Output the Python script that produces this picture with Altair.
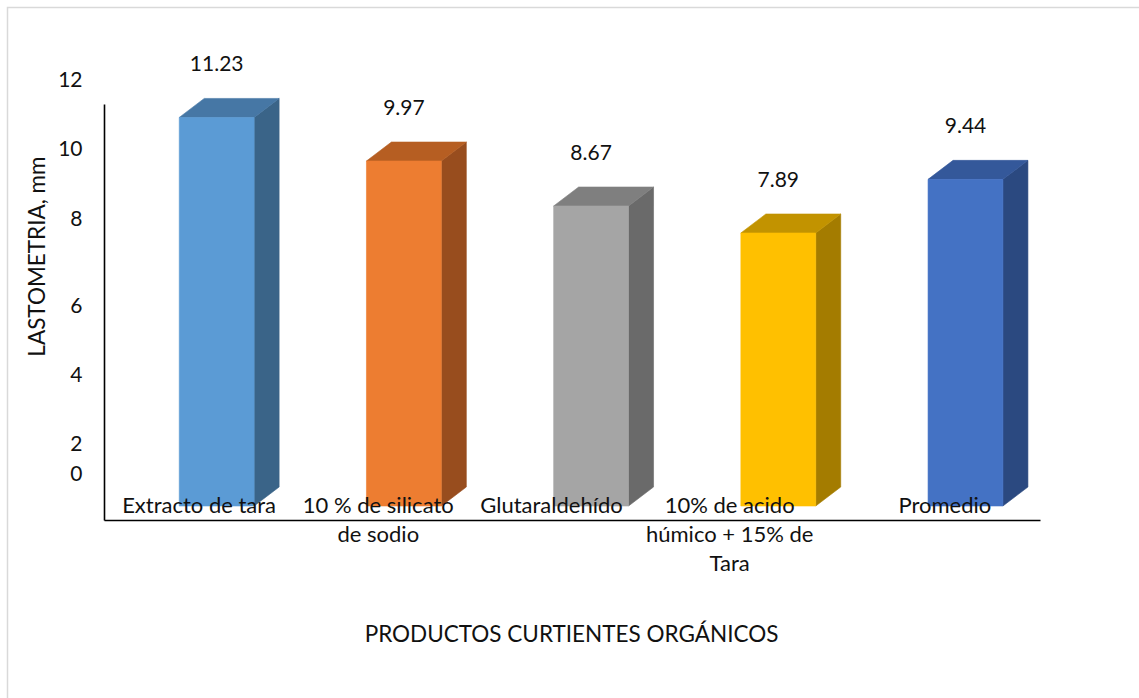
import json
import textwrap

import altair as alt
import pandas as pd

# ---- data -------------------------------------------------------------
categories = [
    "Extracto de tara",
    "10 % de silicato de sodio",
    "Glutaraldehído",
    "10% de acido húmico + 15% de Tara",
    "Promedio",
]
values = [11.23, 9.97, 8.67, 7.89, 9.44]
y_ticks = [0, 2, 4, 6, 8, 10, 12]

# ---- styling ----------------------------------------------------------
front_palette = ["#5B9BD5", "#ED7D31", "#A5A5A5", "#FFC000", "#4472C4"]
top_palette = ["#4677A5", "#B65E22", "#7F7F7F", "#C29300", "#34589A"]
side_palette = ["#3A6488", "#984D1E", "#6A6A6A", "#A47C00", "#2B4980"]

FONT = "Lato"
INK = "#111111"
FS_NUM = 21      # value labels and axis numbers
FS_CAT = 22      # category names
FS_TITLE = 22.5  # axis titles

# plot area (pixels) and page padding
W, H = 936, 416
PAD = {"left": 104, "top": 104, "right": 99, "bottom": 178}

# value scale of the back wall, category slots, and 3-D depth of the columns
Y_MIN, Y_MAX = -0.954, 11.069
PX_PER_UNIT = H / (Y_MAX - Y_MIN)
X_MIN, X_MAX = -0.5, 4.5
PX_PER_SLOT = W / (X_MAX - X_MIN)
DEPTH_X = 25 / PX_PER_SLOT
DEPTH_Y = 19 / PX_PER_UNIT
FACE_L, FACE_R = -0.098, 0.302

x_scale = alt.Scale(domain=[X_MIN, X_MAX], nice=False, zero=False)
y_scale = alt.Scale(domain=[Y_MIN, Y_MAX], nice=False, zero=False)

# ---- column faces built from the values --------------------------------
front_rows, side_rows, top_rows = [], [], []
for i, (cat, v) in enumerate(zip(categories, values)):
    xl, xr = i + FACE_L, i + FACE_R
    front_rows.append(dict(cat=cat, value=v, x0=xl, x1=xr, y0=-DEPTH_Y,
                           y1=v - DEPTH_Y, xc=(xl + xr) / 2,
                           col=front_palette[i]))
    side_rows += [
        dict(cat=cat, x=xr, lo=-DEPTH_Y, hi=v - DEPTH_Y, col=side_palette[i]),
        dict(cat=cat, x=xr + DEPTH_X, lo=0.0, hi=v, col=side_palette[i]),
    ]
    top_rows += [
        dict(cat=cat, y=v - DEPTH_Y, l=xl, r=xr, col=top_palette[i]),
        dict(cat=cat, y=v, l=xl + DEPTH_X, r=xr + DEPTH_X, col=top_palette[i]),
    ]

front_df = pd.DataFrame(front_rows)
side_df = pd.DataFrame(side_rows)
top_df = pd.DataFrame(top_rows)
tick_df = pd.DataFrame({"tick": y_ticks})

# category names wrapped the way they are printed under the floor
wrapped = [textwrap.wrap(c, width=16) for c in categories]
label_expr = json.dumps(wrapped, ensure_ascii=False) + "[datum.value]"
label_nudge = "[1, -7, -21, -30, -2][datum.value]"

x_axis = alt.Axis(
    values=list(range(len(categories))), labelExpr=label_expr,
    labelOffset=alt.ExprRef(label_nudge), labelBaseline="top",
    labelPadding=-25, labelLineHeight=29, ticks=False, tickSize=0,
    grid=False, domainColor="#000000", domainWidth=1.6, labelFlush=False,
    labelOverlap=False, labelFont=FONT, labelFontSize=FS_CAT, labelColor=INK,
    title="PRODUCTOS CURTIENTES ORGÁNICOS", titleFont=FONT,
    titleFontSize=FS_TITLE, titleFontWeight="normal", titleColor=INK,
    titleX=467, titleY=114, titleAlign="center", titleBaseline="middle",
    zindex=1,
)
y_axis = alt.Axis(
    labels=False, ticks=False, grid=False, domainColor="#000000",
    domainWidth=1.6, title="LASTOMETRIA, mm", titleFont=FONT,
    titleFontSize=FS_TITLE, titleFontWeight="normal", titleColor=INK,
    titleAngle=270, titleX=-67, titleY=152, titleAlign="center",
    titleBaseline="middle",
)

frame = alt.Chart(pd.DataFrame({"f": [0]})).mark_rect(
    fill="white", fillOpacity=0, stroke="#D9D9D9", strokeWidth=1.5
).encode(
    x=alt.value(-96.5), y=alt.value(-96.5),
    x2=alt.value(W + PAD["right"] + 20), y2=alt.value(H + PAD["bottom"] + 20),
)

side = alt.Chart(side_df).mark_area(strokeWidth=0.6).encode(
    x=alt.X("x:Q", scale=x_scale, axis=x_axis),
    y=alt.Y("lo:Q", scale=y_scale, axis=y_axis, stack=False),
    y2="hi:Q",
    detail="cat:N",
    color=alt.Color("col:N", scale=None),
    stroke=alt.Stroke("col:N", scale=None),
)

top = alt.Chart(top_df).mark_area(orient="horizontal", strokeWidth=0.6).encode(
    y=alt.Y("y:Q", scale=y_scale, axis=y_axis),
    x=alt.X("l:Q", scale=x_scale, axis=x_axis, stack=False),
    x2="r:Q",
    detail="cat:N",
    color=alt.Color("col:N", scale=None),
    stroke=alt.Stroke("col:N", scale=None),
)

front = alt.Chart(front_df).mark_rect(strokeWidth=0.6).encode(
    x=alt.X("x0:Q", scale=x_scale, axis=x_axis),
    x2="x1:Q",
    y=alt.Y("y0:Q", scale=y_scale, axis=y_axis),
    y2="y1:Q",
    color=alt.Color("col:N", scale=None),
    stroke=alt.Stroke("col:N", scale=None),
)

value_labels = alt.Chart(front_df).mark_text(
    font=FONT, fontSize=FS_NUM, color=INK, baseline="middle", dy=-33
).encode(
    x=alt.X("xc:Q", scale=x_scale, axis=x_axis),
    y=alt.Y("value:Q", scale=y_scale, axis=y_axis),
    text=alt.Text("value:Q", format=".2f"),
)

columns = alt.layer(frame, side, top, front, value_labels)

# value-axis numbers, placed on the back-wall scale
tick_range = [(Y_MAX - min(y_ticks)) * PX_PER_UNIT,
              (Y_MAX - max(y_ticks)) * PX_PER_UNIT]
tick_axis = alt.Chart(tick_df).mark_point(opacity=0).encode(
    y=alt.Y(
        "tick:Q",
        scale=alt.Scale(domain=[min(y_ticks), max(y_ticks)], range=tick_range,
                        nice=False, zero=False),
        axis=alt.Axis(
            orient="left", values=y_ticks, format="d", title=None,
            domain=False, ticks=False, tickSize=0, grid=False,
            labelPadding=22, labelFont=FONT, labelFontSize=FS_NUM,
            labelColor=INK, labelBaseline="middle", labelOverlap=False,
            labelFlush=False,
            labelOffset=alt.ExprRef(
                "datum.value == 0 ? -12 : datum.value <= 6 ? 27 : 9"),
        ),
    )
)

chart = (
    alt.layer(columns, tick_axis)
    .resolve_scale(y="independent")
    .properties(width=W, height=H, padding=PAD,
                autosize=alt.AutoSizeParams(type="none"),
                background="white")
    .configure_view(strokeWidth=0)
)

chart.save("out.html", embed_options={"renderer": "svg", "actions": False})
